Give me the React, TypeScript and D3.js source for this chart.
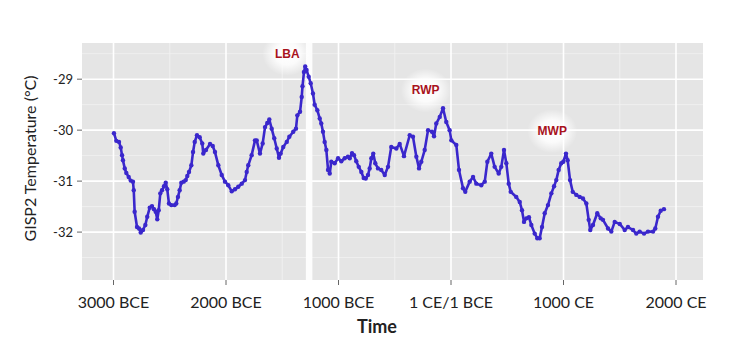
import React from "react";
import * as d3 from "d3";

const years = [
  -2996, -2975, -2951, -2936, -2924, -2916, -2900, -2886, -2865, -2847, -2827, -2820, -2812, -2791, -2773, -2758,
  -2738, -2717, -2700, -2678, -2658, -2640, -2625, -2611, -2598, -2584, -2569, -2551, -2536, -2522, -2507, -2486,
  -2456, -2442, -2427, -2412, -2397, -2376, -2358, -2344, -2329, -2308, -2293, -2278, -2258, -2234, -2211, -2202,
  -2178, -2142, -2118, -2098, -2068, -2038, -2009, -1980, -1949, -1920, -1891, -1860, -1831, -1816, -1802, -1772,
  -1742, -1727, -1698, -1674, -1653, -1633, -1615, -1594, -1571, -1549, -1529, -1514, -1491, -1460, -1437, -1402,
  -1378, -1366, -1342, -1327, -1320, -1307, -1296, -1284, -1265, -1247, -1227, -1212, -1188, -1167, -1153, -1138,
  -1123, -1108, -1093, -1078, -1064, -1034, -1004, -975, -945, -916, -900, -880, -862, -842, -820, -797,
  -776, -758, -738, -723, -708, -691, -673, -649, -620, -589, -560, -531, -486, -456, -418, -367,
  -338, -308, -284, -264, -234, -204, -169, -151, -131, -100, -71, -42, -12, 3, 47, 71,
  107, 127, 166, 196, 225, 269, 300, 323, 358, 388, 424, 447, 471, 492, 513, 531,
  580, 611, 631, 649, 669, 693, 714, 744, 767, 788, 809, 833, 862, 892, 916, 936,
  957, 980, 998, 1022, 1037, 1058, 1082, 1114, 1144, 1173, 1203, 1224, 1238, 1262, 1300, 1331,
  1351, 1396, 1425, 1455, 1500, 1544, 1573, 1618, 1647, 1677, 1716, 1751, 1796, 1816, 1840, 1864,
  1893,
];

const temps = [
  -30.06, -30.21, -30.23, -30.34, -30.49, -30.59, -30.75, -30.84, -30.92, -30.99, -31.01, -31.18, -31.6, -31.9, -31.93, -32.01,
  -31.96, -31.86, -31.7, -31.52, -31.49, -31.55, -31.6, -31.75, -31.57, -31.24, -31.18, -31.1, -31.03, -31.16, -31.44, -31.47,
  -31.47, -31.44, -31.31, -31.18, -31.03, -31.01, -30.98, -30.9, -30.82, -30.69, -30.43, -30.23, -30.1, -30.14, -30.26, -30.46,
  -30.39, -30.27, -30.31, -30.43, -30.69, -30.88, -31.01, -31.08, -31.2, -31.16, -31.11, -31.05, -30.98, -30.82, -30.69, -30.49,
  -30.2, -30.2, -30.46, -30.26, -29.94, -29.86, -29.79, -29.97, -30.16, -30.36, -30.54, -30.46, -30.33, -30.23, -30.13, -30.03,
  -29.97, -29.71, -29.64, -29.35, -29.14, -28.86, -28.75, -28.82, -28.95, -29.08, -29.28, -29.5, -29.61, -29.77, -29.87, -30.03,
  -30.23, -30.39, -30.78, -30.85, -30.62, -30.65, -30.55, -30.61, -30.55, -30.52, -30.55, -30.45, -30.49, -30.61, -30.72, -30.82,
  -30.94, -30.95, -30.88, -30.75, -30.55, -30.46, -30.65, -30.75, -30.78, -30.88, -30.72, -30.33, -30.36, -30.27, -30.51, -30.1,
  -30.13, -30.52, -30.75, -30.62, -30.39, -30.0, -30.03, -30.12, -29.87, -29.74, -29.57, -29.84, -30.0, -30.2, -30.29, -30.78,
  -31.14, -31.21, -31.01, -30.92, -31.05, -31.08, -31.01, -30.62, -30.46, -30.72, -30.85, -30.72, -30.39, -30.65, -31.05, -31.21,
  -31.31, -31.41, -31.57, -31.8, -31.73, -31.71, -31.86, -32.03, -32.12, -32.12, -31.9, -31.63, -31.47, -31.24, -31.1, -30.98,
  -30.78, -30.65, -30.62, -30.46, -30.59, -30.98, -31.21, -31.27, -31.31, -31.34, -31.44, -31.76, -31.96, -31.86, -31.63, -31.73,
  -31.76, -31.93, -31.99, -31.8, -31.84, -31.96, -31.9, -31.96, -32.03, -31.99, -32.03, -31.99, -31.99, -31.93, -31.7, -31.58,
  -31.55,
];

const xTickValues = [-3000, -2000, -1000, 0, 1000, 2000];
const xTickLabels = ["3000 BCE", "2000 BCE", "1000 BCE", "1 CE/1 BCE", "1000 CE", "2000 CE"];
const xMinorValues = [-2500, -1500, -500, 500, 1500];
const yTickValues = [-29, -30, -31, -32];
const yMinorValues = [-28.5, -29.5, -30.5, -31.5, -32.5];

const periodLabels = ["LBA", "RWP", "MWP"];
const periodYears = [-1455, -225, 900];
const periodTemps = [-28.58, -29.3, -30.1];

const gapYears = [-1290, -1232];

const W = 737;
const H = 357;
const PL = 82, PR = 703, PT = 43, PB = 280;

export default function App() {
  const x = d3.scaleLinear().domain([-3280, 2240]).range([PL, PR]);
  const y = d3.scaleLinear().domain([-32.94, -28.29]).range([PB, PT]);
  const data = years.map((yr, i) => ({ yr, t: temps[i] }));
  const line = d3
    .line<{ yr: number; t: number }>()
    .x((d) => x(d.yr))
    .y((d) => y(d.t))
    .curve(d3.curveLinear);
  const lineColor = "#3a27cc";
  const font = "Lato, 'Open Sans', sans-serif";

  return (
    <svg
      width={W}
      height={H}
      style={{ position: "absolute", left: 0, top: 0, background: "#fff" }}
      fontFamily={font}
    >
      <defs>
        <radialGradient id="glow">
          <stop offset="0%" stopColor="#fff" stopOpacity={1} />
          <stop offset="50%" stopColor="#fff" stopOpacity={0.85} />
          <stop offset="100%" stopColor="#fff" stopOpacity={0} />
        </radialGradient>
      </defs>
      <rect x={0} y={0} width={W} height={H} fill="#fff" />
      <rect x={PL} y={PT} width={PR - PL} height={PB - PT} fill="#e5e5e5" />
      {yMinorValues.map((v) => (
        <line key={"ym" + v} x1={PL} x2={PR} y1={y(v)} y2={y(v)} stroke="#f2f2f2" strokeWidth={0.8} />
      ))}
      {xMinorValues.map((v) => (
        <line key={"xm" + v} x1={x(v)} x2={x(v)} y1={PT} y2={PB} stroke="#f2f2f2" strokeWidth={0.8} />
      ))}
      {yTickValues.map((v) => (
        <line key={"yg" + v} x1={PL} x2={PR} y1={y(v)} y2={y(v)} stroke="#fff" strokeWidth={1.6} />
      ))}
      {xTickValues.map((v) => (
        <line key={"xg" + v} x1={x(v)} x2={x(v)} y1={PT} y2={PB} stroke="#fff" strokeWidth={1.6} />
      ))}
      <rect x={x(gapYears[0])} y={PT} width={x(gapYears[1]) - x(gapYears[0])} height={PB - PT} fill="#fdfdfd" />

      {periodLabels.map((l, i) => (
        <ellipse key={"g" + l} cx={x(periodYears[i])} cy={y(periodTemps[i]) - 4} rx={25} ry={22} fill="url(#glow)" />
      ))}

      <path d={line(data) || ""} fill="none" stroke={lineColor} strokeWidth={2.6} strokeLinejoin="round" />
      {data.map((d, i) => (
        <circle key={i} cx={x(d.yr)} cy={y(d.t)} r={2.2} fill={lineColor} />
      ))}

      {periodLabels.map((l, i) => (
        <text
          key={l}
          x={x(periodYears[i])}
          y={y(periodTemps[i])}
          textAnchor="middle"
          fontFamily="'Liberation Sans', Arial, sans-serif"
          fontWeight="bold"
          fontSize={12}
          fill="#a8121c"
        >
          {l}
        </text>
      ))}

      {yTickValues.map((v) => (
        <g key={"yt" + v}>
          <line x1={PL - 5} x2={PL} y1={y(v)} y2={y(v)} stroke="#666" strokeWidth={1} />
          <text x={PL - 9} y={y(v)} dy="0.35em" textAnchor="end" fontSize={13} fill="#222">
            {String(v)}
          </text>
        </g>
      ))}
      {xTickValues.map((v, i) => (
        <g key={"xt" + v}>
          <line x1={x(v)} x2={x(v)} y1={PB} y2={PB + 5} stroke="#666" strokeWidth={1} />
          <text x={x(v)} y={PB + 28} textAnchor="middle" fontSize={16} fill="#222">
            {xTickLabels[i]}
          </text>
        </g>
      ))}
      <text
        transform={`translate(36, ${(PT + PB) / 2 - 3}) rotate(-90)`}
        textAnchor="middle"
        fontSize={16}
        fill="#222"
      >
        GISP2 Temperature (°C)
      </text>
      <text x={377} y={333} textAnchor="middle" fontSize={18} fontWeight="bold" fill="#222">
        Time
      </text>
    </svg>
  );
}
